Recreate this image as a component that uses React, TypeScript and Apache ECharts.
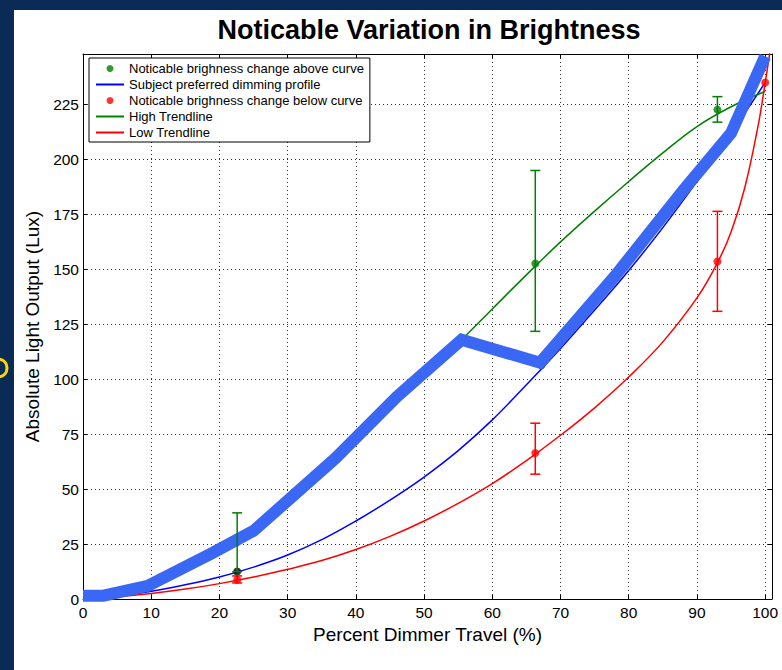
import React, { useEffect, useRef } from 'react';
import * as echarts from 'echarts';

const FONT = "'Liberation Sans', Arial, Helvetica, sans-serif";

const TITLE = 'Noticable Variation in Brightness';
const X_NAME = 'Percent Dimmer Travel (%)';
const Y_NAME = 'Absolute Light Output (Lux)';

const xTickLabels = ['0', '10', '20', '30', '40', '50', '60', '70', '80', '90', '100'];
const yTickLabels = ['0', '25', '50', '75', '100', '125', '150', '175', '200', '225'];
const X_MAX = 101;
const Y_MAX = 248;

const NAME_ABOVE = 'Noticable brighness change above curve';
const NAME_PROFILE = 'Subject preferred dimming profile';
const NAME_BELOW = 'Noticable brighness change below curve';
const NAME_HIGH = 'High Trendline';
const NAME_LOW = 'Low Trendline';

// thick highlighted path
const boldX = [0, 3, 9.5, 19, 25, 37, 46, 55.5, 67, 78, 88, 95, 100];
const boldY = [1.5, 1.5, 6, 21, 31, 64, 92, 118, 107.5, 147, 186, 212, 247];

// subject preferred dimming profile (thin blue)
const profileX = [0, 5, 10, 15, 20, 25, 30, 35, 40, 45, 50, 55, 60, 65, 70, 75, 80, 85, 90, 95, 100];
const profileY = [0, 1.2, 3.5, 6.5, 10, 14.5, 20, 27, 35.5, 45, 55.5, 67.5, 81.5, 97.5, 114, 131.5, 149.5, 169, 190, 212, 235];

// high trendline (green)
const highX = [55.5, 60, 65, 70, 75, 80, 85, 90, 95, 100];
const highY = [118, 132, 147.5, 162.5, 176.5, 190, 203, 215, 224, 231];

// low trendline (red)
const lowX = [0, 5, 10, 15, 20, 25, 30, 35, 40, 45, 50, 55, 60, 65, 70, 75, 80, 85, 90, 93, 95, 97, 99, 100, 101];
const lowY = [0, 1, 2.5, 4.5, 7, 10, 13.5, 17.5, 22.5, 28.5, 35.5, 43.5, 52.5, 63, 74.5, 87, 101, 117, 137, 153, 167, 187, 216, 235, 255];

// points above curve (green) with error ranges
const aboveX = [22.6, 66.3, 93];
const aboveY = [25.8, 152.7, 222.7];
const aboveLow = [12.4, 121.8, 217];
const aboveHigh = [39.2, 195, 228.6];

// points below curve (red) with error ranges
const belowX = [22.6, 66.3, 93, 100];
const belowY = [8.8, 66.4, 153.6, 235];
const belowErrX = [22.6, 66.3, 93];
const belowLow = [7.3, 56.8, 130.9];
const belowHigh = [10.5, 80, 176.4];

// subject points (black)
const subjectX = [22.6, 67.2];
const subjectY = [12.5, 106.4];

const zip = (xs: number[], ys: number[]) => xs.map((x, i) => [x, ys[i]]);

const errSeries = (name: string, xs: number[], lo: number[], hi: number[], color: string) => ({
  type: 'custom',
  name,
  silent: true,
  z: 5,
  encode: { x: 0, y: [1, 2] },
  data: xs.map((x, i) => [x, lo[i], hi[i]]),
  renderItem: (_p: any, api: any) => {
    const x = api.value(0);
    const a = api.coord([x, api.value(1)]);
    const b = api.coord([x, api.value(2)]);
    const w = 5;
    const style = { stroke: color, lineWidth: 1.5 };
    return {
      type: 'group',
      children: [
        { type: 'line', shape: { x1: a[0], y1: a[1], x2: b[0], y2: b[1] }, style },
        { type: 'line', shape: { x1: a[0] - w, y1: a[1], x2: a[0] + w, y2: a[1] }, style },
        { type: 'line', shape: { x1: b[0] - w, y1: b[1], x2: b[0] + w, y2: b[1] }, style },
      ],
    };
  },
});

const axisLineStyle = { color: '#000', width: 1 };
const hiddenSymbol = { opacity: 0 };

export default function App() {
  const ref = useRef<HTMLDivElement>(null);

  useEffect(() => {
    if (!ref.current) return;
    const chart = echarts.init(ref.current, undefined, { renderer: 'svg' });
    const option: any = {
      animation: false,
      textStyle: { fontFamily: FONT },
      title: {
        text: TITLE,
        left: 429,
        top: 16,
        textAlign: 'center',
        padding: 0,
        textStyle: { fontSize: 27, fontWeight: 'bold', color: '#000', fontFamily: FONT },
      },
      grid: { left: 83, right: 10, top: 54, bottom: 71, containLabel: false },
      legend: {
        orient: 'vertical',
        left: 89,
        top: 58,
        padding: [4, 6, 3, 6],
        backgroundColor: '#fff',
        borderColor: '#000',
        borderWidth: 1,
        borderRadius: 0,
        itemWidth: 28,
        itemHeight: 7,
        itemGap: 3,
        selectedMode: false,
        textStyle: { fontSize: 13, lineHeight: 13, color: '#000', fontFamily: FONT },
        data: [
          { name: NAME_ABOVE, icon: 'circle' },
          { name: NAME_PROFILE, itemStyle: hiddenSymbol },
          { name: NAME_BELOW, icon: 'circle' },
          { name: NAME_HIGH, itemStyle: hiddenSymbol },
          { name: NAME_LOW, itemStyle: hiddenSymbol },
        ],
      },
      xAxis: [
        {
          type: 'value',
          min: 0,
          max: X_MAX,
          interval: 10,
          position: 'bottom',
          name: X_NAME,
          nameLocation: 'middle',
          nameGap: 21,
          nameTextStyle: { fontSize: 19, color: '#000', fontFamily: FONT },
          axisLine: { show: true, onZero: false, lineStyle: axisLineStyle },
          axisTick: { show: true, inside: true, length: 4, lineStyle: axisLineStyle },
          axisLabel: {
            margin: 5,
            fontSize: 15.5,
            color: '#000',
            fontFamily: FONT,
            formatter: (v: number) => (xTickLabels.includes(String(v)) ? String(v) : ''),
          },
          splitLine: { show: true, lineStyle: { color: '#333', type: [1, 3], width: 1 } },
        },
        {
          type: 'value',
          min: 0,
          max: X_MAX,
          interval: 10,
          position: 'top',
          axisLine: { show: true, onZero: false, lineStyle: axisLineStyle },
          axisTick: { show: true, inside: true, length: 4, lineStyle: axisLineStyle },
          axisLabel: { show: false },
          splitLine: { show: false },
        },
      ],
      yAxis: [
        {
          type: 'value',
          min: 0,
          max: Y_MAX,
          interval: 25,
          position: 'left',
          name: Y_NAME,
          nameLocation: 'middle',
          nameGap: 30,
          nameTextStyle: { fontSize: 19, color: '#000', fontFamily: FONT },
          axisLine: { show: true, onZero: false, lineStyle: axisLineStyle },
          axisTick: { show: true, inside: true, length: 4, lineStyle: axisLineStyle },
          axisLabel: {
            margin: 4,
            fontSize: 15.5,
            color: '#000',
            fontFamily: FONT,
            formatter: (v: number) => (yTickLabels.includes(String(v)) ? String(v) : ''),
          },
          splitLine: { show: true, lineStyle: { color: '#333', type: [1, 3], width: 1 } },
        },
        {
          type: 'value',
          min: 0,
          max: Y_MAX,
          interval: 25,
          position: 'right',
          axisLine: { show: true, onZero: false, lineStyle: axisLineStyle },
          axisTick: { show: true, inside: true, length: 4, lineStyle: axisLineStyle },
          axisLabel: { show: false },
          splitLine: { show: false },
        },
      ],
      graphic: [
        {
          type: 'arc',
          silent: true,
          shape: { cx: -2, cy: 368, r: 9, startAngle: -Math.PI / 2.3, endAngle: Math.PI / 2.3 },
          style: { stroke: '#ffd800', lineWidth: 3, fill: 'none' },
        },
      ],
      series: [
        {
          type: 'line',
          name: NAME_PROFILE,
          data: zip(profileX, profileY),
          smooth: 0.4,
          symbol: 'none',
          z: 2,
          lineStyle: { color: '#0000ff', width: 1.5 },
          itemStyle: { color: '#0000ff' },
        },
        {
          type: 'line',
          name: NAME_HIGH,
          data: zip(highX, highY),
          smooth: 0.4,
          symbol: 'none',
          z: 2,
          lineStyle: { color: '#008000', width: 1.5 },
          itemStyle: { color: '#008000' },
        },
        {
          type: 'line',
          name: NAME_LOW,
          data: zip(lowX, lowY),
          smooth: 0.4,
          symbol: 'none',
          clip: true,
          z: 2,
          lineStyle: { color: '#ff0000', width: 1.5 },
          itemStyle: { color: '#ff0000' },
        },
        {
          type: 'scatter',
          name: NAME_ABOVE,
          data: zip(aboveX, aboveY),
          symbol: 'circle',
          symbolSize: 8,
          z: 2,
          itemStyle: { color: '#008000' },
        },
        {
          type: 'scatter',
          name: NAME_BELOW,
          data: zip(belowX, belowY),
          symbol: 'circle',
          symbolSize: 8,
          z: 2,
          itemStyle: { color: '#ff0000' },
        },
        {
          type: 'scatter',
          name: 'Subject points',
          data: zip(subjectX, subjectY),
          symbol: 'circle',
          symbolSize: 8,
          z: 2,
          itemStyle: { color: '#000' },
        },
        {
          type: 'line',
          name: 'Bold path',
          data: zip(boldX, boldY),
          symbol: 'none',
          z: 3,
          lineStyle: { color: '#3b67f5', width: 12, cap: 'butt', join: 'miter' },
        },
        errSeries('above error', aboveX, aboveLow, aboveHigh, '#008000'),
        errSeries('below error', belowErrX, belowLow, belowHigh, '#ff0000'),
      ],
    };
    chart.setOption(option);
    return () => chart.dispose();
  }, []);

  return (
    <div
      style={{
        position: 'fixed',
        left: 0,
        top: 0,
        width: 782,
        height: 670,
        background: '#0b2b57',
        overflow: 'hidden',
      }}
    >
      <div style={{ position: 'absolute', left: 14, top: 10, right: 0, bottom: 0, background: '#fff' }} />
      <div ref={ref} style={{ position: 'absolute', left: 0, top: 0, width: 782, height: 670 }} />
    </div>
  );
}
